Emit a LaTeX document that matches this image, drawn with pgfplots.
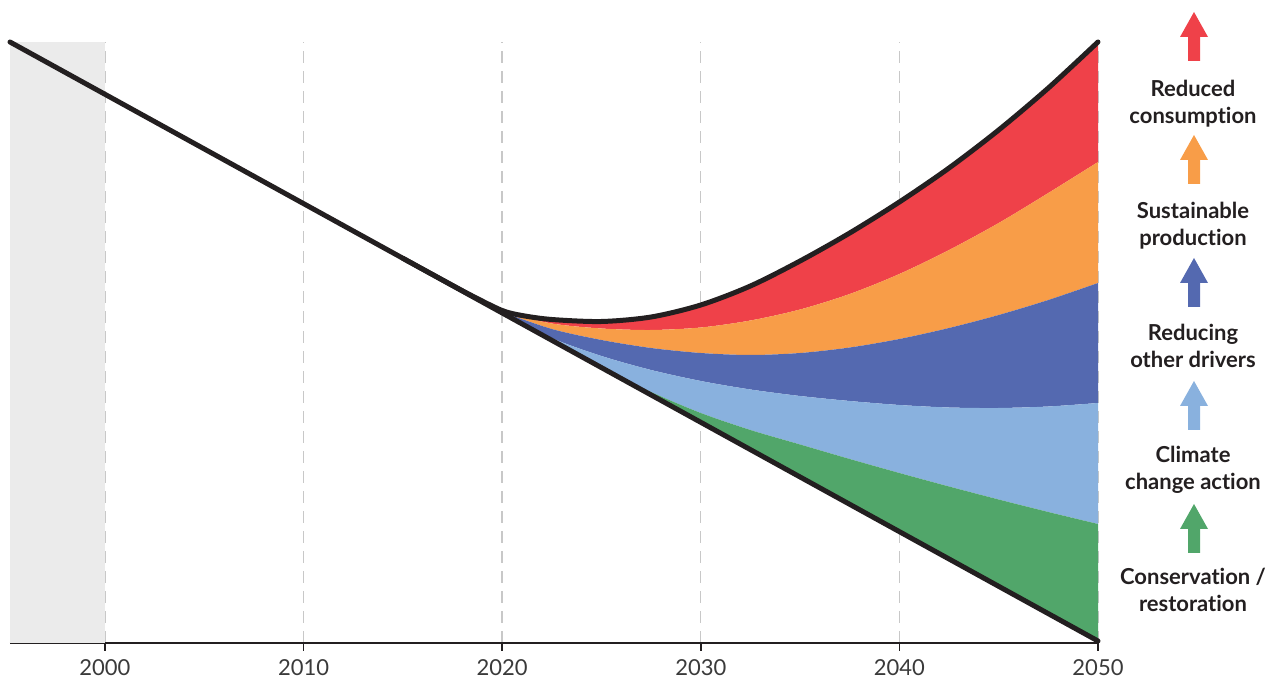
\documentclass[border=0pt]{standalone}
\usepackage{fontspec}
\setmainfont{Lato}[Ligatures={NoCommon}]
\usepackage{pgfplots}
\pgfplotsset{compat=1.18}
\usepgfplotslibrary{fillbetween}

\definecolor{cRed}{HTML}{EF4149}
\definecolor{cOrange}{HTML}{F89D48}
\definecolor{cBlue}{HTML}{5469B0}
\definecolor{cLight}{HTML}{89B1DE}
\definecolor{cGreen}{HTML}{51A66A}
\definecolor{shade}{HTML}{EBEBEB}
\definecolor{ink}{HTML}{231F20}
\definecolor{gridc}{HTML}{C8C8C8}
\definecolor{tickc}{HTML}{3A3A3A}

% x = years after 2000
\begin{document}
\begin{tikzpicture}
\path (-5pt,-18.5pt) rectangle (633pt,321.5pt);
\begin{axis}[
    at={(0,0)}, anchor=south west,
    scale only axis, width=544pt, height=300.5pt,
    xmin=-4.78, xmax=50, ymin=0, ymax=601,
    axis x line=bottom, axis y line=none,
    x axis line style={-, line width=1pt, color=ink},
    xtick={0,10,...,50},
    xticklabels={2000,2010,2020,2030,2040,2050},
    xticklabel style={text=tickc, font=\fontsize{11}{12}\selectfont, yshift=-0.5pt},
    tick align=outside, major tick length=4pt,
    tick style={line width=0.8pt, color=ink},
    xmajorgrids,
    major grid style={dash pattern=on 6pt off 4pt, line width=0.7pt, color=gridc},
    clip=false,
]
% shaded history period
\addplot[draw=none, fill=shade] coordinates {(-4.78,0) (-4.78,601) (0,601) (0,0)} -- cycle;

% baseline trajectory
\addplot[name path=Lr, draw=none] coordinates {(20,330.2) (50,2)};
% top curve (all actions combined)
\addplot[name path=T, draw=none, smooth] coordinates {
 (20,332.5) (21,327.5) (22.5,323.5) (25,321.5) (27.5,326) (30,338) (32.5,357)
 (35,382) (37.5,410) (40,441) (42.5,475) (45,513) (47.5,555) (50,601)};
% band boundaries
\addplot[name path=A, draw=none, smooth] coordinates {
 (20,331) (22.5,319.5) (25,314.5) (27.5,313) (30,315.5) (32.5,322.5)
 (35,333.5) (37.5,349) (40,369) (42.5,393) (45,420) (47.5,450) (50,481)};
\addplot[name path=B, draw=none, smooth] coordinates {
 (20,331) (22.5,314) (25,303) (27.5,295) (30,290) (32.5,288)
 (35,290) (37.5,295.5) (40,304) (42.5,315) (45,328) (47.5,343) (50,360)};
\addplot[name path=C, draw=none, smooth] coordinates {
 (20,331) (22.5,305) (25,287) (27.5,273) (30,262) (32.5,253.5)
 (35,247) (37.5,242) (40,238) (42.5,235.5) (45,235) (47.5,236.5) (50,240)};
\addplot[name path=D, draw=none, smooth] coordinates {
 (20,330.5) (22.5,303) (25,275.6) (27.5,251) (30,230) (32.5,213)
 (35,198.5) (37.5,184) (40,170) (42.5,156.5) (45,143.5) (47.5,131) (50,119)};

\addplot[cRed, draw=none] fill between[of=T and A];
\addplot[cOrange, draw=none] fill between[of=A and B];
\addplot[cBlue, draw=none] fill between[of=B and C];
\addplot[cLight, draw=none] fill between[of=C and D];
\addplot[cGreen, draw=none] fill between[of=D and Lr];

% black outlines
\addplot[ink, line width=2.5pt, line cap=round] coordinates {(-4.78,601) (50,2)};
\addplot[ink, line width=2.5pt, line cap=round, smooth] coordinates {
 (15,384.7) (17,363) (18.5,347) (20,332.5) (21,327.5) (22.5,323.5) (25,321.5)
 (27.5,326) (30,338) (32.5,357) (35,382) (37.5,410) (40,441) (42.5,475)
 (45,513) (47.5,555) (50,601)};
\end{axis}

% legend column
\def\arrowx{592pt}
\foreach \tip/\col in {315.5/cRed, 254/cOrange, 192.5/cBlue, 131/cLight, 69.5/cGreen}{
  \fill[\col] (\arrowx,\tip pt) -- ++(7pt,-12.5pt) -- ++(-4pt,0) -- ++(0,-12pt)
     -- ++(-6pt,0) -- ++(0,12pt) -- ++(-4pt,0) -- cycle;
}
\begin{scope}[every node/.style={anchor=base, text=ink, font=\fontsize{11}{12}\selectfont\bfseries, inner sep=0pt}]
\node at (591.5pt,273pt) {Reduced};
\node at (591.5pt,259.5pt) {consumption};
\node at (591.5pt,212pt) {Sustainable};
\node at (591.5pt,198.5pt) {production};
\node at (591.5pt,151pt) {Reducing};
\node at (591.5pt,137.5pt) {other drivers};
\node at (591.5pt,90pt) {Climate};
\node at (591.5pt,76.5pt) {change action};
\node at (591.5pt,29pt) {Conservation /};
\node at (591.5pt,15.5pt) {restoration};
\end{scope}
\end{tikzpicture}
\end{document}
